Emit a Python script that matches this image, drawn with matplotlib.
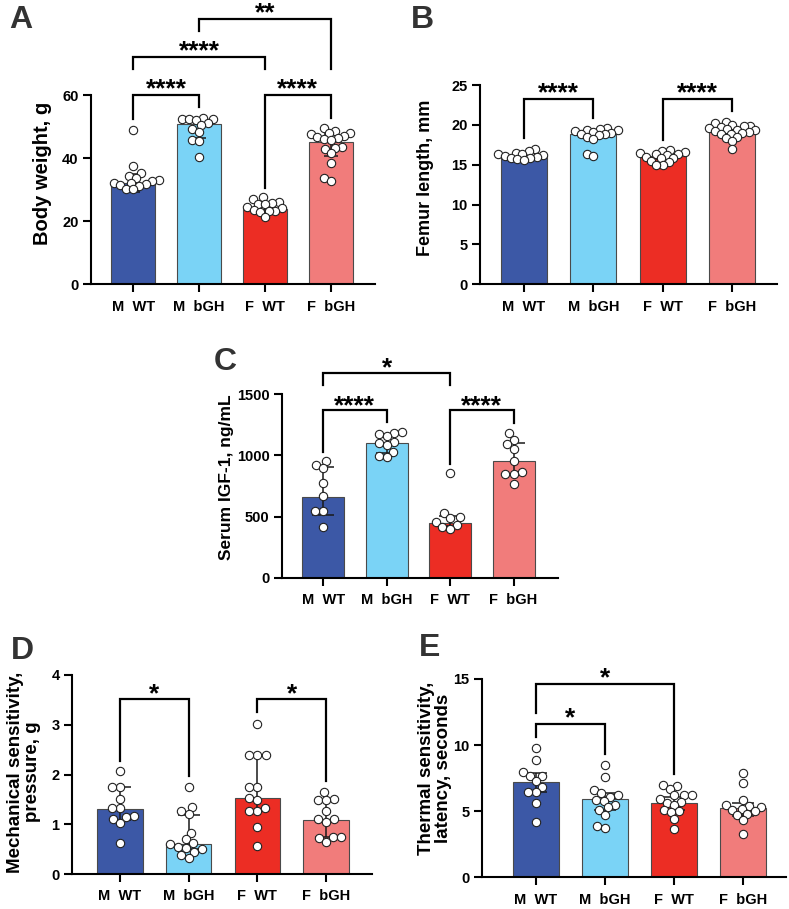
import numpy as np
import matplotlib
matplotlib.use("Agg")
import matplotlib.pyplot as plt

plt.rcParams['font.family'] = ['Liberation Sans', 'DejaVu Sans']
plt.rcParams['font.weight'] = 'bold'

# ---------------- data ----------------
groups = ["M  WT", "M  bGH", "F  WT", "F  bGH"]
bar_colors = ["#3C58A6", "#7AD3F6", "#EC2D24", "#F17C7B"]

# A: body weight (g)
bw_mwt = [48.9, 37.6, 35.4, 34.3, 33.8, 33.1, 32.9, 32.2, 32.2, 31.8, 31.5, 31.3, 30.3, 30.1]
bw_mbgh = [52.8, 52.5, 52.4, 52.3, 52.0, 51.0, 50.5, 49.1, 48.4, 45.7, 45.4, 40.5]
bw_fwt = [27.6, 27.0, 26.2, 25.9, 25.6, 25.5, 24.6, 24.1, 23.5, 23.3, 23.1, 22.8, 21.2]
bw_fbgh = [49.4, 48.6, 48.0, 47.9, 47.5, 47.0, 46.8, 46.3, 46.0, 45.8, 43.6, 43.3, 42.8,
           41.5, 38.3, 33.6, 32.9]
bw_mean = [32.0, 50.7, 24.0, 45.0]
bw_lo = [29.1, 46.5, 22.2, 40.8]
bw_hi = [34.9, 52.6, 25.8, 47.5]

# B: femur length (mm)
fl_mwt = [17.0, 16.7, 16.5, 16.4, 16.3, 16.2, 16.1, 16.0, 15.9, 15.8, 15.7, 15.6]
fl_mbgh = [19.6, 19.5, 19.4, 19.3, 19.2, 19.1, 19.0, 18.9, 18.8, 18.7, 18.5, 18.2, 16.3, 16.1]
fl_fwt = [16.9, 16.7, 16.6, 16.5, 16.4, 16.3, 16.2, 16.0, 15.9, 15.8, 15.5, 15.3, 15.0, 15.0]
fl_fbgh = [20.4, 20.2, 20.0, 19.9, 19.8, 19.7, 19.6, 19.5, 19.4, 19.3, 19.2, 19.1, 19.0,
           18.9, 18.8, 18.5, 18.3, 18.0, 17.0]
fl_mean = [16.1, 18.9, 16.1, 19.3]
fl_lo = [15.8, 18.3, 15.7, 18.8]
fl_hi = [16.4, 19.4, 16.5, 19.7]

# C: serum IGF-1 (ng/mL)
igf_mwt = [957, 919, 894, 777, 668, 548, 548, 417]
igf_mbgh = [1191, 1186, 1178, 1161, 1112, 1099, 1082, 1028, 995, 990]
igf_fwt = [856, 532, 494, 486, 458, 431, 417, 396]
igf_fbgh = [1181, 1126, 1091, 1055, 954, 862, 848, 848, 766]
igf_mean = [662, 1104, 450, 952]
igf_lo = [513, 1022, 425, 848]
igf_hi = [908, 1169, 507, 1104]

# D: mechanical sensitivity (g)
mech_mwt = [2.07, 1.74, 1.74, 1.50, 1.33, 1.33, 1.17, 1.15, 1.10, 1.03, 0.62]
mech_mbgh = [1.74, 1.35, 1.27, 1.20, 0.83, 0.70, 0.62, 0.60, 0.55, 0.52, 0.50, 0.45, 0.38, 0.32]
mech_fwt = [3.02, 2.40, 2.40, 2.40, 1.74, 1.74, 1.53, 1.49, 1.33, 1.27, 1.27, 0.94, 0.56]
mech_fbgh = [1.65, 1.50, 1.49, 1.49, 1.27, 1.10, 1.10, 1.05, 0.74, 0.74, 0.73, 0.64]
mech_mean = [1.30, 0.60, 1.52, 1.09]
mech_lo = [1.08, 0.50, 1.27, 0.74]
mech_hi = [1.74, 1.19, 2.40, 1.49]

# E: thermal sensitivity (s)
therm_mwt = [9.8, 8.9, 7.95, 7.7, 7.7, 7.3, 6.85, 6.45, 6.45, 5.65, 4.15]
therm_mbgh = [8.5, 7.6, 6.6, 6.35, 6.25, 6.1, 5.85, 5.8, 5.5, 5.3, 5.1, 4.75, 3.85, 3.7]
therm_fwt = [7.0, 6.9, 6.7, 6.25, 6.25, 6.2, 5.95, 5.7, 5.65, 5.5, 5.1, 5.0, 4.95, 4.4, 3.65]
therm_fbgh = [7.9, 7.1, 5.85, 5.5, 5.4, 5.3, 5.2, 5.1, 5.0, 4.8, 4.7, 4.3, 3.3]
therm_mean = [7.23, 5.9, 5.6, 5.22]
therm_lo = [6.43, 5.09, 5.1, 4.6]
therm_hi = [7.87, 6.35, 6.1, 5.6]

# significance annotations: (group i, group j, label)
sig_A = [(0, 1, "****"), (2, 3, "****"), (0, 2, "****"), (1, 3, "**")]
sig_B = [(0, 1, "****"), (2, 3, "****")]
sig_C = [(0, 1, "****"), (2, 3, "****"), (0, 2, "*")]
sig_D = [(0, 1, "*"), (2, 3, "*")]
sig_E = [(0, 1, "*"), (0, 2, "*")]

# ---------------- layout ----------------
W, H = 789, 909
fig = plt.figure(figsize=(W / 100, H / 100), dpi=100)

MARK_D = 8.2  # marker diameter in px


def add_ax(left, right, top, bottom):
    return fig.add_axes([left / W, 1 - bottom / H, (right - left) / W, (bottom - top) / H])


def swarm_offsets(ax, xc, vals, d):
    tr = ax.transData
    pxx = tr.transform((1, 0))[0] - tr.transform((0, 0))[0]
    ys = [tr.transform((xc, v))[1] for v in vals]
    order = np.argsort(ys)
    placed = []
    offs = np.zeros(len(vals))
    for idx in order:
        y = ys[idx]
        cands = [0.0]
        near = [(px, py) for px, py in placed if abs(py - y) < d]
        for px, py in near:
            dx = np.sqrt(max(d * d - (py - y) ** 2, 0)) + 0.01
            cands += [px + dx, px - dx]
        cands = sorted(cands, key=lambda c: (abs(c), c))
        for c in cands:
            if all((c - px) ** 2 + (y - py) ** 2 >= d * d - 0.05 for px, py in near):
                offs[idx] = c
                placed.append((c, y))
                break
    return offs / pxx


def panel(ax, pts, means, lo, hi, ylim, yticks, xlim, ylabel, ylab_xy, ylab_fs,
          sigs, sig_geom, letter, letter_xy, capsize=7, pack=1.0):
    x = np.arange(4)
    ax.set_xlim(*xlim)
    ax.set_ylim(*ylim)
    ax.bar(x, means, width=0.66, color=bar_colors, edgecolor="#4a4a4a", linewidth=0.8, zorder=2)
    yerr = [np.array(means) - np.array(lo), np.array(hi) - np.array(means)]
    ax.errorbar(x, means, yerr=yerr, fmt="none", ecolor="#1a1a1a", elinewidth=1.1,
                capsize=capsize, capthick=1.1, zorder=3)
    for i, vals in enumerate(pts):
        offs = swarm_offsets(ax, i, vals, MARK_D * pack)
        ax.scatter(i + offs, vals, s=36, facecolor="white", edgecolor="#222222",
                   linewidth=0.8, zorder=4, clip_on=False)
    for sp in ["top", "right"]:
        ax.spines[sp].set_visible(False)
    for sp in ["left", "bottom"]:
        ax.spines[sp].set_linewidth(1.5)
    ax.set_xticks(x)
    ax.set_xticklabels(groups, fontsize=10.5, fontweight="bold")
    ax.set_yticks(yticks)
    ax.set_yticklabels([str(t) for t in yticks], fontsize=10.5, fontweight="bold")
    ax.tick_params(axis="x", length=6, width=1.5, pad=5)
    ax.tick_params(axis="y", length=6, width=1.5, pad=3)
    fig.text(ylab_xy[0] / W, 1 - ylab_xy[1] / H, ylabel, rotation=90, ha="center",
             va="center", fontsize=ylab_fs, fontweight="bold", linespacing=1.05)
    fig.text(letter_xy[0] / W, 1 - letter_xy[1] / H, letter, ha="left", va="center",
             fontsize=23, fontweight="bold", color="#333333")
    fs = 19
    for (i, j, lab), (yb, yl, yr, ty) in zip(sigs, sig_geom):
        ax.plot([i, i, j, j], [yl, yb, yb, yr], color="black", lw=1.6, clip_on=False,
                solid_joinstyle="miter", zorder=5)
        ax.annotate(lab, xy=((i + j) / 2, ty), xytext=(0, -0.57 * fs),
                    textcoords="offset points", ha="center", va="baseline",
                    fontsize=fs, fontweight="bold", annotation_clip=False)


# Panel A
axA = add_ax(91, 375, 95, 284.3)
panel(axA, [bw_mwt, bw_mbgh, bw_fwt, bw_fbgh], bw_mean, bw_lo, bw_hi,
      (0, 60), [0, 20, 40, 60], (-0.64, 3.67), "Body weight, g", (42, 173), 14.5,
      sig_A, [(60.0, 52.3, 56.1, 64.2), (60.0, 30.4, 52.6, 64.2),
              (71.9, 68.2, 68.2, 76.4), (84.0, 80.3, 68.1, 88.5)],
      "A", (9, 20), capsize=5, pack=0.85)

# Panel B
axB = add_ax(480, 777, 85, 284.3)
panel(axB, [fl_mwt, fl_mbgh, fl_fwt, fl_fbgh], fl_mean, fl_lo, fl_hi,
      (0, 25), [0, 5, 10, 15, 20, 25], (-0.635, 3.65), "Femur length, mm", (425, 178), 13,
      sig_B, [(23.3, 18.4, 20.8, 25.0), (23.3, 18.1, 21.7, 25.0)],
      "B", (411, 20), capsize=5, pack=0.8)

# Panel C
axC = add_ax(282, 558, 394.3, 577.7)
panel(axC, [igf_mwt, igf_mbgh, igf_fwt, igf_fbgh], igf_mean, igf_lo, igf_hi,
      (0, 1500), [0, 500, 1000, 1500], (-0.65, 3.7), "Serum IGF-1, ng/mL", (227, 477), 12.5,
      sig_C, [(1371, 1030, 1270, 1467), (1371, 930, 1262, 1467), (1676, 1575, 1575, 1780)],
      "C", (214, 362), capsize=8, pack=1.0)

# Panel D
axD = add_ax(72, 372, 675, 874)
panel(axD, [mech_mwt, mech_mbgh, mech_fwt, mech_fbgh], mech_mean, mech_lo, mech_hi,
      (0, 4), [0, 1, 2, 3, 4], (-0.70, 3.67), "Mechanical sensitivity,\npressure, g", (24, 772), 13.5,
      sig_D, [(3.51, 2.28, 1.96, 3.78), (3.51, 3.26, 1.86, 3.78)],
      "D", (11, 651), capsize=8, pack=1.0)

# Panel E
axE = add_ax(482, 786, 679, 877.3)
panel(axE, [therm_mwt, therm_mbgh, therm_fwt, therm_fbgh], therm_mean, therm_lo, therm_hi,
      (0, 15), [0, 5, 10, 15], (-0.78, 3.62), "Thermal sensitivity,\nlatency, seconds", (435, 768), 13.5,
      sig_E, [(11.57, 10.64, 9.33, 12.65), (14.6, 12.4, 7.81, 15.68)],
      "E", (419, 648), capsize=8, pack=0.95)

fig.savefig("out.png", dpi=100)
